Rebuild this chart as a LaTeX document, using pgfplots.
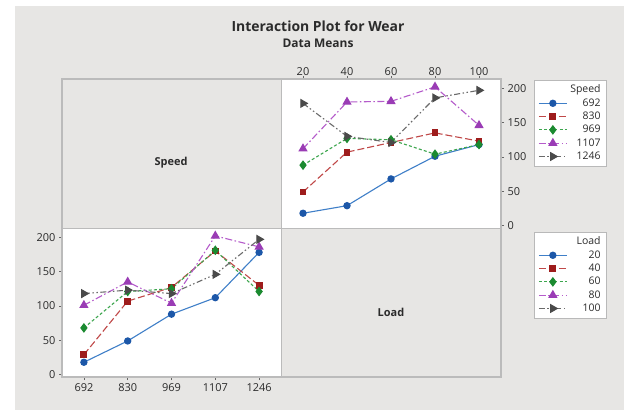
\documentclass[border=0pt]{standalone}
\usepackage{fontspec}
\setmainfont{Open Sans}
\usepackage{pgfplots}
\usepackage{pgfplotstable}
\pgfplotsset{compat=1.18}

\definecolor{bg}{HTML}{E7E6E4}
\definecolor{framec}{HTML}{BBBBBB}
\definecolor{txt}{HTML}{2B2B2B}
\definecolor{lnA}{HTML}{3F7FC8}\definecolor{mkA}{HTML}{1C57A8}
\definecolor{lnB}{HTML}{C04848}\definecolor{mkB}{HTML}{9E1C1C}
\definecolor{lnC}{HTML}{3DA64E}\definecolor{mkC}{HTML}{1B8A30}
\definecolor{lnD}{HTML}{B55BCB}\definecolor{mkD}{HTML}{9A3CB5}
\definecolor{lnE}{HTML}{6A6A6A}\definecolor{mkE}{HTML}{4A4A4A}

% cell means of Wear: rows = Load, columns = Speed
\pgfplotstableread{
load s692 s830 s969 s1107 s1246
20   18   49   88   112   178
40   29   107  127  180   130
60   68   121  125  181   121
80   101  135  104  202   186
100  118  123  118  146   197
}\byload

% the same means: rows = Speed, columns = Load
\pgfplotstableread{
idx speed l20 l40 l60 l80 l100
0   692   18  29  68  101 118
1   830   49  107 121 135 123
2   969   88  127 125 104 118
3   1107  112 180 181 202 146
4   1246  178 130 121 186 197
}\byspeed

\pgfplotsset{
  sA/.style={color=lnA, solid, line width=1.1bp, mark=*, mark size=3.1bp,
    mark options={solid, fill=mkA, draw=mkA}},
  sB/.style={color=lnB, dash pattern=on 7bp off 3bp, line width=1.1bp, mark=square*, mark size=2.9bp,
    mark options={solid, fill=mkB, draw=mkB}},
  sC/.style={color=lnC, dash pattern=on 3bp off 2.2bp, line width=1.1bp, mark=diamond*, mark size=4bp,
    mark options={solid, fill=mkC, draw=mkC}},
  sD/.style={color=lnD, dash pattern=on 7bp off 2.5bp on 1.5bp off 2.5bp, line width=1.1bp, mark=triangle*, mark size=4.3bp,
    mark options={solid, fill=mkD, draw=mkD}},
  sE/.style={color=lnE, dash pattern=on 6bp off 2.5bp on 1.5bp off 2.5bp on 1.5bp off 2.5bp, line width=1.1bp, mark=triangle*, mark size=4.3bp,
    mark options={solid, fill=mkE, draw=mkE, rotate=-90}},
  panel/.style={
    scale only axis, height=149bp,
    ymin=-3.5, ymax=213.5, ytick={0,50,100,150,200},
    tick align=outside, major tick length=3bp,
    axis line style={framec, line width=0.8bp},
    tick style={gray!80!black, line width=0.6bp},
    axis background/.style={fill=white},
    tick label style={font=\fontsize{11}{13}\selectfont, text=txt},
    /pgf/number format/assume math mode=true,
    clip=false,
    legend image code/.code={\draw[mark repeat=2,mark phase=2] plot coordinates {(0bp,0bp) (14bp,0bp) (28bp,0bp)};},
    legend style={draw=gray!55, fill=white, line width=0.6bp,
      font=\fontsize{10.5}{12}\selectfont, text=txt,
      nodes={inner sep=1.2bp, text height=8.3bp, text depth=2.6bp},
      row sep=0bp, inner xsep=4bp, inner ysep=3bp},
  },
}

\begin{document}
\begin{tikzpicture}[x=1bp, y=1bp]
  % page and panel background
  \fill[white] (0,0) rectangle (624,410);
  \fill[bg] (15,0) rectangle (624,404);

  \node[font=\bfseries\fontsize{14}{16}\selectfont, text=txt] at (318,384) {Interaction Plot for Wear};
  \node[font=\bfseries\fontsize{12}{14}\selectfont, text=txt] at (318,367) {Data Means};

  % Wear against Load, one line per Speed
  \begin{axis}[panel, at={(281bp,182bp)}, anchor=south west, width=220bp,
      xmin=10, xmax=110, xtick={20,40,60,80,100},
      xtick pos=upper, xticklabel pos=upper,
      xticklabel style={yshift=-3bp},
      ytick pos=right, yticklabel pos=right,
      legend style={at={(1.15,0.993)}, anchor=north west}]
    \addlegendimage{empty legend}\addlegendentry{\makebox[32bp][r]{Speed}}
    \addplot[sA] table[x=load, y=s692] {\byload};   \addlegendentry{\makebox[32bp][r]{692}}
    \addplot[sB] table[x=load, y=s830] {\byload};   \addlegendentry{\makebox[32bp][r]{830}}
    \addplot[sC] table[x=load, y=s969] {\byload};   \addlegendentry{\makebox[32bp][r]{969}}
    \addplot[sD] table[x=load, y=s1107] {\byload};  \addlegendentry{\makebox[32bp][r]{1107}}
    \addplot[sE] table[x=load, y=s1246] {\byload};  \addlegendentry{\makebox[32bp][r]{1246}}
  \end{axis}

  % Wear against Speed, one line per Load
  \begin{axis}[panel, at={(62bp,33bp)}, anchor=south west, width=219bp,
      xmin=-0.5, xmax=4.5, xtick={0,1,2,3,4},
      xticklabels={692,830,969,1107,1246},
      xtick pos=lower, ytick pos=left,
      legend style={at={(2.1553,0.973)}, anchor=north west}]
    \addlegendimage{empty legend}\addlegendentry{\makebox[32bp][r]{Load}}
    \addplot[sA] table[x=idx, y=l20] {\byspeed};   \addlegendentry{\makebox[32bp][r]{20}}
    \addplot[sB] table[x=idx, y=l40] {\byspeed};   \addlegendentry{\makebox[32bp][r]{40}}
    \addplot[sC] table[x=idx, y=l60] {\byspeed};   \addlegendentry{\makebox[32bp][r]{60}}
    \addplot[sD] table[x=idx, y=l80] {\byspeed};   \addlegendentry{\makebox[32bp][r]{80}}
    \addplot[sE] table[x=idx, y=l100] {\byspeed};  \addlegendentry{\makebox[32bp][r]{100}}
  \end{axis}

  % matrix frame and cell dividers
  \draw[framec, line width=1.2bp] (62,33) rectangle (501,331);
  \draw[framec, line width=1bp] (281,33) -- (281,331);
  \draw[framec, line width=1bp] (62,182) -- (501,182);

  \node[font=\bfseries\fontsize{11}{13}\selectfont, text=txt] at (171,247) {Speed};
  \node[font=\bfseries\fontsize{11}{13}\selectfont, text=txt] at (391,98) {Load};
\end{tikzpicture}
\end{document}
